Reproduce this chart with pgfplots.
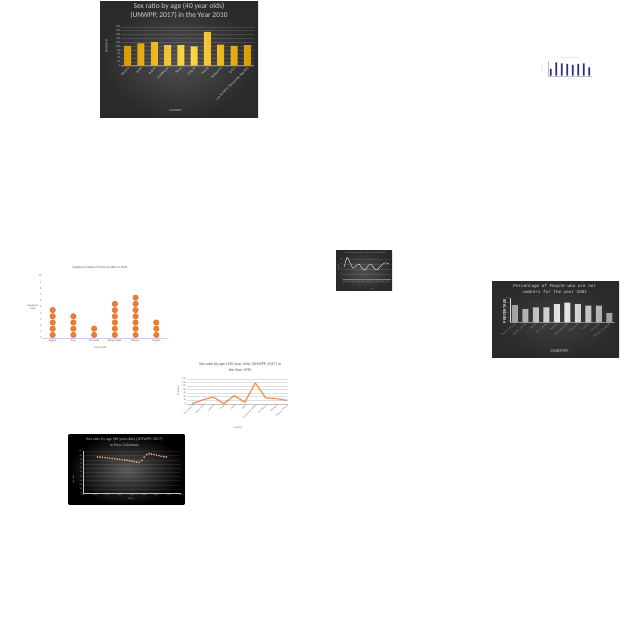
\documentclass[border=0pt]{standalone}
\usepackage{fontspec}
\setmainfont{Carlito}
\newfontfamily\serifF{Liberation Serif}
\newfontfamily\monoF{Liberation Mono}
\usepackage{pgfplots}
\pgfplotsset{compat=1.18}
\newcommand{\fs}[2][1.2]{\fontsize{#2}{#1\dimexpr #2pt\relax}\selectfont}
\definecolor{darkin}{HTML}{505050}
\definecolor{darkout}{HTML}{2A2A2A}
\definecolor{gold}{HTML}{FFC000}
\definecolor{goldd}{HTML}{D99A00}
\definecolor{goldl}{HTML}{FFD84A}
\definecolor{xlorange}{HTML}{ED7D31}
\definecolor{xlorangeD}{HTML}{D4691F}
\definecolor{navyb}{HTML}{2B2D7E}
\definecolor{txtgray}{HTML}{595959}
\definecolor{lighttxt}{HTML}{D0D0D0}
\pgfplotsset{base/.style={scale only axis, clip=false,
  /pgf/number format/assume math mode=true, /pgf/number format/1000 sep={},
  major tick length=0pt, tick style={draw=none},
  every axis title/.style={},
  xticklabel style={inner sep=0.6pt}, yticklabel style={inner sep=0.6pt}}}
\begin{document}
\begin{tikzpicture}[x=1pt,y=1pt]
\useasboundingbox (0,0) rectangle (640,640);
\fill[white] (0,0) rectangle (640,640);
% panels
\shade[inner color=darkin, outer color=darkout] (100,638) rectangle (258,522);
\shade[inner color=darkin, outer color=darkout] (336,389) rectangle (392,349);
\shade[inner color=darkin!110, outer color=darkout] (492,358) rectangle (619,282.5);
\shade[inner color=darkin!95, outer color=darkout!120] (68.7,205.3) rectangle (184.3,135.3);

% ---------- chart 1 ----------
\begin{axis}[base, at={(121pt,574.3pt)}, anchor=south west, width=133pt, height=39pt,
  xmin=-0.5, xmax=9.5, ymin=0, ymax=200, ytick={0,20,...,200}, xtick={0,...,9},
  xticklabels={Jamaica,Japan,Jordan,Kazakhstan,Kenya,Kiribati,Kuwait,Kyrgyzstan,Latvia,Lao People's Democratic Republic},
  x tick label style={rotate=45, anchor=north east, font=\fs{3.3}, text=white!80!black},
  y tick label style={font=\fs{2.8}, text=white!75!black},
  axis x line*=bottom, axis y line*=left,
  x axis line style={draw=white!55!black, line width=0.4pt}, y axis line style={draw=none},
  ymajorgrids, grid style={draw=white, opacity=0.12, line width=0.3pt},
  title={Sex ratio by age (40 year olds)\\(UNWPP, 2017) in the Year 2010},
  title style={at={(axis description cs:0.436,1.415)}, anchor=center, align=center, font=\fs[1.2]{7.5}, text=white!82!black},
  ylabel={SEX RATIO}, ylabel style={at={(axis description cs:-0.109,0.5)}, anchor=center, font=\fs{3.2}, text=white!80!black},
  xlabel={COUNTRY}, xlabel style={at={(axis description cs:0.41,-1.16)}, anchor=center, font=\fs{3.2}, text=white!80!black}]
\addplot[ybar, bar width=7pt, draw=none, left color=goldd, right color=goldd, middle color=goldl]
 coordinates {(0,102) (1,115) (2,121) (3,105) (4,106) (5,99) (6,173) (7,108) (8,102) (9,105)};
\end{axis}

% ---------- chart 2 ----------
\begin{axis}[base, at={(548pt,564.3pt)}, anchor=south west, width=44pt, height=15pt,
  xmin=-0.5, xmax=7.5, ymin=0, ymax=15, xtick=\empty, ytick=\empty,
  axis x line*=bottom, axis y line*=left,
  x axis line style={draw=black!25, line width=0.2pt}, y axis line style={draw=black!25, line width=0.2pt},
  title={Sex ratio by age (UNWPP, 2017)},
  title style={at={(axis description cs:0.5,1.2)}, anchor=center, font=\fs{1.6}, text=black!30},
  ylabel={Sex ratio}, ylabel style={at={(axis description cs:-0.136,0.5)}, anchor=center, font=\fs{1.8}, text=black!35},
  xlabel={Country}, xlabel style={at={(axis description cs:0.5,-0.25)}, anchor=center, font=\fs{1.5}, text=black!35}]
\addplot[ybar, bar width=1.8pt, draw=none, fill=navyb]
 coordinates {(0,6.7) (1,13.4) (2,12.4) (3,11.7) (4,10.7) (5,11.7) (6,12.4) (7,8.4)};
\end{axis}

% ---------- chart 3 ----------
\begin{axis}[base, at={(343pt,361pt)}, anchor=south west, width=47.7pt, height=23.3pt,
  xmin=0.6, xmax=16.6, ymin=0, ymax=23.3, xtick={1,...,16},
  xticklabels={2000,2001,2002,2003,2004,2005,2006,2007,2008,2009,2010,2011,2012,2013,2014,2015},
  ytick={0,5,10,15,20},
  x tick label style={rotate=60, anchor=north east, font=\fs{1.7}, text=white!70!black},
  y tick label style={font=\fs{1.7}, text=white!70!black},
  axis x line*=bottom, axis y line*=left,
  x axis line style={draw=white!50!black, line width=0.2pt}, y axis line style={draw=none},
  ymajorgrids, grid style={draw=white, opacity=0.1, line width=0.2pt},
  title={Sex ratio by age (UNWPP, 2017) in the Years 2000--2015},
  title style={at={(axis description cs:0.47,1.12)}, anchor=center, font=\fs{1.8}, text=white!70!black},
  ylabel={Sex ratio}, ylabel style={at={(axis description cs:-0.094,0.5)}, anchor=center, font=\fs{1.7}, text=white!70!black},
  xlabel={Year}, xlabel style={at={(axis description cs:0.61,-0.44)}, anchor=center, font=\fs{1.7}, text=white!70!black}]
\addplot[white!88!black, line width=0.45pt, smooth, tension=0.4]
 coordinates {(1,12.3) (2,21.7) (3,15.7) (4,10.7) (5,13.3) (6,15) (7,10.7) (8,9) (9,13) (10,15) (11,10.7) (12,9) (13,12.3) (14,15) (15,16.3) (16,15)};
\end{axis}

% ---------- chart 4 ----------
\begin{axis}[base, at={(42.3pt,302pt)}, anchor=south west, width=124.4pt, height=62pt,
  xmin=-0.5, xmax=5.5, ymin=0, ymax=10, ytick={0,...,10}, xtick={0,...,5},
  xticklabels={Nagpur,Durg,Thiruvalla,Bhagyanagar,Bilaspur,Panipat},
  x tick label style={font=\fs{2.6}, text=txtgray, yshift=-0.8pt},
  y tick label style={font=\fs{2.6}, text=txtgray},
  axis x line*=bottom, axis y line*=left,
  x axis line style={draw=black!25!blue!20!white, line width=0.5pt}, y axis line style={draw=none},
  title={Happiness Index of Cities of India in 2021},
  title style={at={(axis description cs:0.464,1.129)}, anchor=center, font=\fs{3.3}, text=txtgray},
  ylabel={Happiness\\Index}, ylabel style={at={(axis description cs:-0.075,0.5)}, anchor=center, rotate=-90, align=center, font=\fs{2.6}, text=txtgray},
  xlabel={City in India}, xlabel style={at={(axis description cs:0.464,-0.156)}, anchor=center, font=\fs{2.6}, text=txtgray}]
\addplot[only marks, mark=*, mark size=2.8pt, mark options={fill=xlorange, draw=xlorangeD, line width=0.3pt}]
 coordinates {(0,0.5) (0,1.5) (0,2.5) (0,3.5) (0,4.5)
 (1,0.5) (1,1.5) (1,2.5) (1,3.5)
 (2,0.5) (2,1.5)
 (3,0.5) (3,1.5) (3,2.5) (3,3.5) (3,4.5) (3,5.5)
 (4,0.5) (4,1.5) (4,2.5) (4,3.5) (4,4.5) (4,5.5) (4,6.5)
 (5,0.5) (5,1.5) (5,2.5)};
\end{axis}

% ---------- chart 5 ----------
\begin{axis}[base, at={(509.7pt,317.7pt)}, anchor=south west, width=105pt, height=24pt,
  xmin=-0.5, xmax=9.5, ymin=0, ymax=100, ytick={0,20,...,100}, xtick={0,...,9},
  xticklabels={South Africa,South Korea,Spain,Sri Lanka,Sweden,Switzerland,Thailand,Turkey,Ukraine,United Kingdom},
  x tick label style={rotate=38, anchor=north east, font=\monoF\fs{2.5}, text=white!62!black},
  y tick label style={font=\monoF\fs{1.8}, text=white!70!black},
  axis x line*=bottom, axis y line*=left,
  x axis line style={draw=white!55!black, line width=0.3pt}, y axis line style={draw=white!85!black, line width=0.4pt},
  title={Percentage of People who are not\\smokers for the year 2001},
  title style={at={(axis description cs:0.429,1.38)}, anchor=center, align=center, font=\monoF\fs[1.45]{4.3}, text=white!85!black},
  ylabel={PERCENTAGE}, ylabel style={at={(axis description cs:-0.048,0.47)}, anchor=center, font=\monoF\bfseries\fs{4}, text=white!88!black},
  xlabel={COUNTRY}, xlabel style={at={(axis description cs:0.476,-1.18)}, anchor=center, font=\monoF\fs{4.3}, text=white!80!black}]
\addplot[ybar, bar width=6pt, draw=none, left color=white!62!black, right color=white!62!black, middle color=white!92!black]
 coordinates {(0,72) (1,55) (2,62) (3,62) (4,76) (5,82) (6,76) (7,69) (8,69) (9,38)};
\end{axis}

% ---------- chart 6 ----------
\begin{axis}[base, at={(186.7pt,236.3pt)}, anchor=south west, width=101.6pt, height=25pt,
  xmin=-0.55, xmax=9.15, ymin=0, ymax=140, ytick={0,20,...,140}, xtick={0,...,9},
  xticklabels={New Caledonia,Montenegro,Morocco,Nauru,Nepal,Niger,Netherlands Antilles,New Zealand,Nicaragua,Northern Mariana},
  x tick label style={rotate=45, anchor=north east, font=\fs{2.1}, text=txtgray},
  y tick label style={font=\fs{2.3}, text=txtgray},
  axis x line*=bottom, axis y line*=left,
  x axis line style={draw=black!25, line width=0.3pt}, y axis line style={draw=none},
  ymajorgrids, grid style={draw=black!12, line width=0.25pt},
  title={Sex ratio by age (100 year olds) (UNWPP, 2017) in\\the Year 1990},
  title style={at={(axis description cs:0.525,1.48)}, anchor=center, align=center, font=\fs[1.45]{4.1}, text=txtgray},
  ylabel={Sex ratio}, ylabel style={at={(axis description cs:-0.083,0.51)}, anchor=center, font=\fs{2.5}, text=txtgray},
  xlabel={Country}, xlabel style={at={(axis description cs:0.505,-0.97)}, anchor=center, font=\fs{2.5}, text=txtgray}]
\addplot[xlorange, opacity=0.25, line width=2pt, line join=round]
 coordinates {(0,0) (1,22) (2,37) (3,0) (4,45) (5,8) (6,116) (7,32) (8,28) (9,19)};
\addplot[xlorange, line width=0.7pt, line join=round]
 coordinates {(0,0) (1,22) (2,37) (3,0) (4,45) (5,8) (6,116) (7,32) (8,28) (9,19)};
\end{axis}

% ---------- chart 7 ----------
\begin{axis}[base, at={(82.7pt,147pt)}, anchor=south west, width=98.3pt, height=41.7pt,
  xmin=1950, xmax=2030, ymin=0, ymax=100, xtick={1950,1960,...,2030}, ytick={0,10,...,100},
  x tick label style={font=\serifF\fs{2.1}, text=white!72!black},
  y tick label style={font=\serifF\fs{2.1}, text=white!72!black},
  axis x line*=bottom, axis y line*=left,
  x axis line style={draw=white!75!black, line width=0.4pt}, y axis line style={draw=white!75!black, line width=0.4pt},
  ymajorgrids, grid style={draw=white, opacity=0.08, line width=0.25pt},
  title={Sex ratio by age (90 year olds) (UNWPP, 2017)\\in New Caledonia},
  title style={at={(axis description cs:0.423,1.216)}, anchor=center, align=center, font=\serifF\fs[1.5]{4}, text=white!80!black},
  ylabel={Sex ratio}, ylabel style={at={(axis description cs:-0.096,0.32)}, anchor=center, font=\serifF\fs{2.3}, text=white!72!black},
  xlabel={Years}, xlabel style={at={(axis description cs:0.49,-0.137)}, anchor=center, font=\serifF\fs{2.5}, text=white!72!black}]
\addplot[only marks, mark=*, mark size=0.75pt, mark options={fill=xlorange!85!black, draw=xlorange!40!white, line width=0.15pt}]
 coordinates {(1962,86.5) (1964,86) (1966,85.5) (1968,85) (1970,84.3) (1972,83.6) (1974,83) (1976,82.2) (1978,81.5) (1980,80.8) (1982,80) (1984,79.3) (1986,78.5) (1988,77.5) (1990,76.5) (1992,75.5) (1994,74.5) (1996,73.5) (1998,78) (2000,86) (2002,92) (2004,94) (2006,93.5) (2008,92.5) (2010,91) (2012,89.5) (2014,88) (2016,87) (2018,86.5)};
\end{axis}
\end{tikzpicture}
\end{document}
